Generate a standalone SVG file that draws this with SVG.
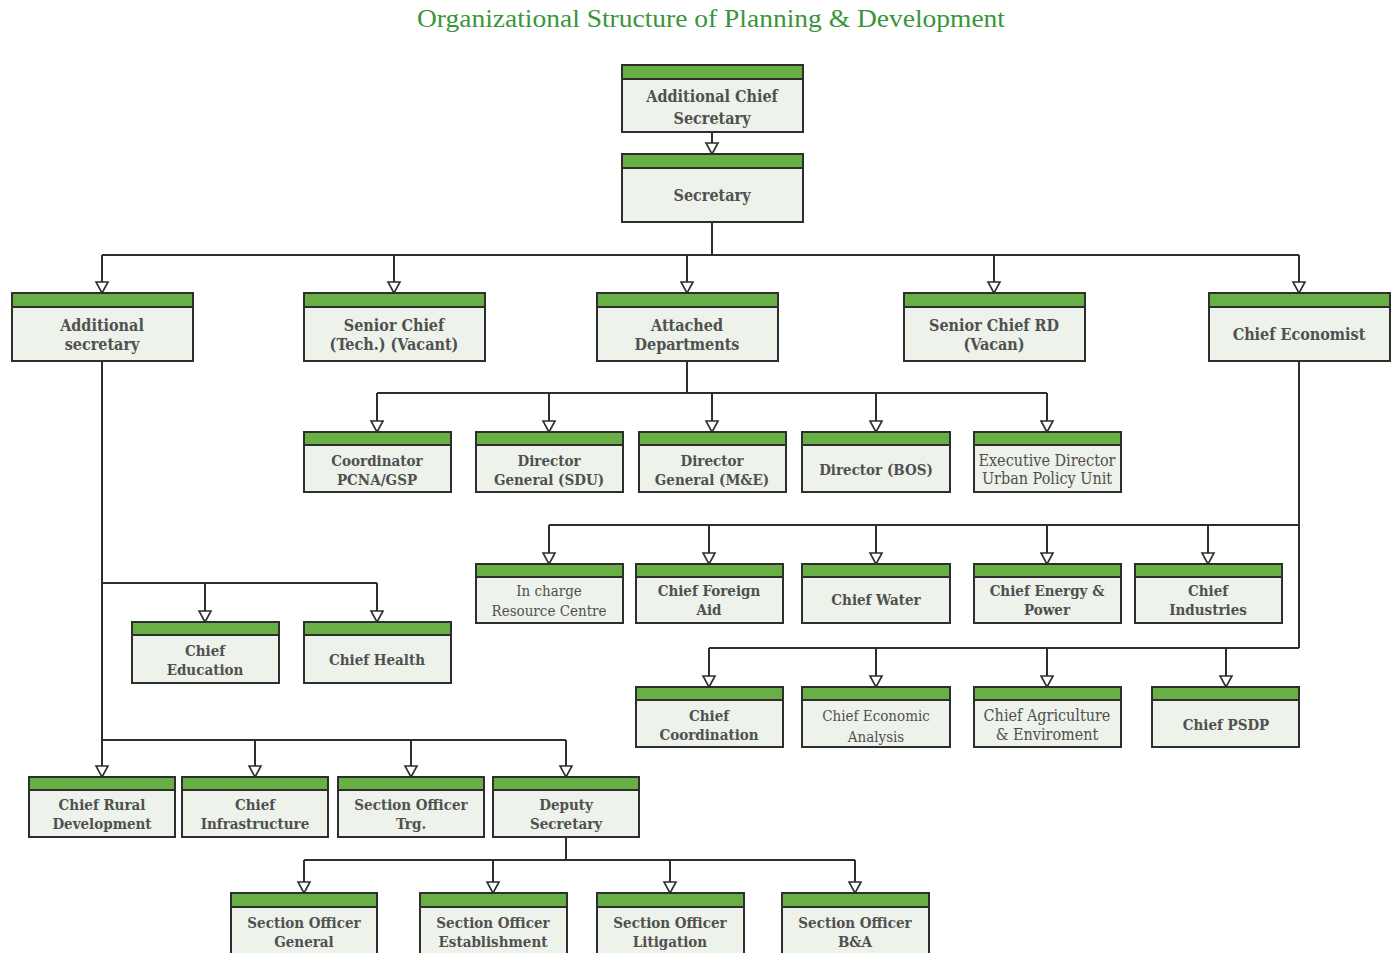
<svg xmlns="http://www.w3.org/2000/svg" width="1398" height="953" viewBox="0 0 1398 953">
  <style>
    .body { fill: #edf2ea; stroke: #2e2e2e; stroke-width: 2; }
    .hd { fill: #68b045; stroke: #2e2e2e; stroke-width: 2; }
    .t { font-family: "DejaVu Serif Condensed", "DejaVu Serif", serif; font-stretch: condensed; font-weight: bold; font-size: 16px; fill: #505050; text-anchor: middle; }
    .s { font-size: 15px; }
    .n { font-weight: normal; }
    .title { font-family: "Liberation Serif", serif; font-size: 25px; fill: #3a953a; text-anchor: middle; }
    .c { fill: none; stroke: #2e2e2e; stroke-width: 2; }
    .a { marker-end: url(#tri); }
  </style>
  <defs>
    <marker id="tri" markerUnits="userSpaceOnUse" markerWidth="14" markerHeight="16" viewBox="-1 -8 13 16" refX="11" refY="0" orient="auto">
      <path d="M0,-6 L11,0 L0,6 Z" fill="#ffffff" stroke="#2e2e2e" stroke-width="1.6"/>
    </marker>
  </defs>
  <rect width="1398" height="953" fill="#ffffff"/>

  <text class="title" x="711" y="27" textLength="588" lengthAdjust="spacingAndGlyphs">Organizational Structure of Planning &amp; Development</text>

  <!-- connectors -->
  <g id="connectors">
    <line class="c a" x1="712" y1="132" x2="712" y2="154"/>
    <path class="c" d="M712,222 V255 M102,255 H1299"/>
    <line class="c a" x1="102" y1="255" x2="102" y2="293"/>
    <line class="c a" x1="394" y1="255" x2="394" y2="293"/>
    <line class="c a" x1="687" y1="255" x2="687" y2="293"/>
    <line class="c a" x1="994" y1="255" x2="994" y2="293"/>
    <line class="c a" x1="1299" y1="255" x2="1299" y2="293"/>

    <path class="c" d="M687,361 V393 M377,393 H1047"/>
    <line class="c a" x1="377" y1="393" x2="377" y2="432"/>
    <line class="c a" x1="549" y1="393" x2="549" y2="432"/>
    <line class="c a" x1="712" y1="393" x2="712" y2="432"/>
    <line class="c a" x1="876" y1="393" x2="876" y2="432"/>
    <line class="c a" x1="1047" y1="393" x2="1047" y2="432"/>

    <path class="c" d="M1299,361 V648 M549,525 H1299 M709,648 H1299"/>
    <line class="c a" x1="549" y1="525" x2="549" y2="564"/>
    <line class="c a" x1="709" y1="525" x2="709" y2="564"/>
    <line class="c a" x1="876" y1="525" x2="876" y2="564"/>
    <line class="c a" x1="1047" y1="525" x2="1047" y2="564"/>
    <line class="c a" x1="1208" y1="525" x2="1208" y2="564"/>
    <line class="c a" x1="709" y1="648" x2="709" y2="687"/>
    <line class="c a" x1="876" y1="648" x2="876" y2="687"/>
    <line class="c a" x1="1047" y1="648" x2="1047" y2="687"/>
    <line class="c a" x1="1226" y1="648" x2="1226" y2="687"/>

    <line class="c a" x1="102" y1="361" x2="102" y2="777"/>
    <path class="c" d="M102,583 H377 M102,740 H566"/>
    <line class="c a" x1="205" y1="583" x2="205" y2="622"/>
    <line class="c a" x1="377" y1="583" x2="377" y2="622"/>
    <line class="c a" x1="255" y1="740" x2="255" y2="777"/>
    <line class="c a" x1="411" y1="740" x2="411" y2="777"/>
    <line class="c a" x1="566" y1="740" x2="566" y2="777"/>

    <path class="c" d="M566,837 V860 M304,860 H855"/>
    <line class="c a" x1="304" y1="860" x2="304" y2="893"/>
    <line class="c a" x1="493" y1="860" x2="493" y2="893"/>
    <line class="c a" x1="670" y1="860" x2="670" y2="893"/>
    <line class="c a" x1="855" y1="860" x2="855" y2="893"/>
  </g>

  <!-- top -->
  <g id="acs">
    <rect class="body" x="622" y="65" width="181" height="67"/>
    <rect class="hd" x="622" y="65" width="181" height="14"/>
    <text class="t" x="712" y="102">Additional Chief</text>
    <text class="t" x="712" y="124">Secretary</text>
  </g>
  <g id="secretary">
    <rect class="body" x="622" y="154" width="181" height="68"/>
    <rect class="hd" x="622" y="154" width="181" height="14"/>
    <text class="t" x="712" y="201">Secretary</text>
  </g>

  <!-- first level -->
  <g id="add-sec">
    <rect class="body" x="12" y="293" width="181" height="68"/>
    <rect class="hd" x="12" y="293" width="181" height="14"/>
    <text class="t" x="102" y="331">Additional</text>
    <text class="t" x="102" y="350">secretary</text>
  </g>
  <g id="senior-chief-tech">
    <rect class="body" x="304" y="293" width="181" height="68"/>
    <rect class="hd" x="304" y="293" width="181" height="14"/>
    <text class="t" x="394" y="331">Senior Chief</text>
    <text class="t" x="394" y="350">(Tech.) (Vacant)</text>
  </g>
  <g id="attached">
    <rect class="body" x="597" y="293" width="181" height="68"/>
    <rect class="hd" x="597" y="293" width="181" height="14"/>
    <text class="t" x="687" y="331">Attached</text>
    <text class="t" x="687" y="350">Departments</text>
  </g>
  <g id="senior-chief-rd">
    <rect class="body" x="904" y="293" width="181" height="68"/>
    <rect class="hd" x="904" y="293" width="181" height="14"/>
    <text class="t" x="994" y="331">Senior Chief RD</text>
    <text class="t" x="994" y="350">(Vacan)</text>
  </g>
  <g id="chief-economist">
    <rect class="body" x="1209" y="293" width="181" height="68"/>
    <rect class="hd" x="1209" y="293" width="181" height="14"/>
    <text class="t" x="1299" y="340">Chief Economist</text>
  </g>

  <!-- attached departments -->
  <g id="coordinator">
    <rect class="body" x="304" y="432" width="147" height="60"/>
    <rect class="hd" x="304" y="432" width="147" height="13"/>
    <text class="t s" x="377" y="466">Coordinator</text>
    <text class="t s" x="377" y="485">PCNA/GSP</text>
  </g>
  <g id="dg-sdu">
    <rect class="body" x="476" y="432" width="147" height="60"/>
    <rect class="hd" x="476" y="432" width="147" height="13"/>
    <text class="t s" x="549" y="466">Director</text>
    <text class="t s" x="549" y="485">General (SDU)</text>
  </g>
  <g id="dg-me">
    <rect class="body" x="639" y="432" width="147" height="60"/>
    <rect class="hd" x="639" y="432" width="147" height="13"/>
    <text class="t s" x="712" y="466">Director</text>
    <text class="t s" x="712" y="485">General (M&amp;E)</text>
  </g>
  <g id="director-bos">
    <rect class="body" x="802" y="432" width="148" height="60"/>
    <rect class="hd" x="802" y="432" width="148" height="13"/>
    <text class="t s" x="876" y="475">Director (BOS)</text>
  </g>
  <g id="exec-director">
    <rect class="body" x="974" y="432" width="147" height="60"/>
    <rect class="hd" x="974" y="432" width="147" height="13"/>
    <text class="t n" x="1047" y="466" font-size="14">Executive Director</text>
    <text class="t n" x="1047" y="484" font-size="14">Urban Policy Unit</text>
  </g>

  <!-- chief economist, first row -->
  <g id="resource-centre">
    <rect class="body" x="476" y="564" width="147" height="59"/>
    <rect class="hd" x="476" y="564" width="147" height="13"/>
    <text class="t s n" x="549" y="596">In charge</text>
    <text class="t s n" x="549" y="616">Resource Centre</text>
  </g>
  <g id="foreign-aid">
    <rect class="body" x="636" y="564" width="147" height="59"/>
    <rect class="hd" x="636" y="564" width="147" height="13"/>
    <text class="t s" x="709" y="596">Chief Foreign</text>
    <text class="t s" x="709" y="615">Aid</text>
  </g>
  <g id="water">
    <rect class="body" x="802" y="564" width="148" height="59"/>
    <rect class="hd" x="802" y="564" width="148" height="13"/>
    <text class="t s" x="876" y="605">Chief Water</text>
  </g>
  <g id="energy">
    <rect class="body" x="974" y="564" width="147" height="59"/>
    <rect class="hd" x="974" y="564" width="147" height="13"/>
    <text class="t s" x="1047" y="596">Chief Energy &amp;</text>
    <text class="t s" x="1047" y="615">Power</text>
  </g>
  <g id="industries">
    <rect class="body" x="1135" y="564" width="147" height="59"/>
    <rect class="hd" x="1135" y="564" width="147" height="13"/>
    <text class="t s" x="1208" y="596">Chief</text>
    <text class="t s" x="1208" y="615">Industries</text>
  </g>

  <!-- chief economist, second row -->
  <g id="coordination">
    <rect class="body" x="636" y="687" width="147" height="60"/>
    <rect class="hd" x="636" y="687" width="147" height="13"/>
    <text class="t s" x="709" y="721">Chief</text>
    <text class="t s" x="709" y="740">Coordination</text>
  </g>
  <g id="economic-analysis">
    <rect class="body" x="802" y="687" width="148" height="60"/>
    <rect class="hd" x="802" y="687" width="148" height="13"/>
    <text class="t s n" x="876" y="721">Chief Economic</text>
    <text class="t s n" x="876" y="742">Analysis</text>
  </g>
  <g id="agriculture">
    <rect class="body" x="974" y="687" width="147" height="60"/>
    <rect class="hd" x="974" y="687" width="147" height="13"/>
    <text class="t n" x="1047" y="721" font-size="14">Chief Agriculture</text>
    <text class="t n" x="1047" y="740" font-size="14">&amp; Enviroment</text>
  </g>
  <g id="psdp">
    <rect class="body" x="1152" y="687" width="147" height="60"/>
    <rect class="hd" x="1152" y="687" width="147" height="13"/>
    <text class="t s" x="1226" y="730">Chief PSDP</text>
  </g>

  <!-- additional secretary branch -->
  <g id="education">
    <rect class="body" x="132" y="622" width="147" height="61"/>
    <rect class="hd" x="132" y="622" width="147" height="13"/>
    <text class="t s" x="205" y="656">Chief</text>
    <text class="t s" x="205" y="675">Education</text>
  </g>
  <g id="health">
    <rect class="body" x="304" y="622" width="147" height="61"/>
    <rect class="hd" x="304" y="622" width="147" height="13"/>
    <text class="t s" x="377" y="665">Chief Health</text>
  </g>
  <g id="rural">
    <rect class="body" x="29" y="777" width="146" height="60"/>
    <rect class="hd" x="29" y="777" width="146" height="13"/>
    <text class="t s" x="102" y="810">Chief Rural</text>
    <text class="t s" x="102" y="829">Development</text>
  </g>
  <g id="infrastructure">
    <rect class="body" x="182" y="777" width="146" height="60"/>
    <rect class="hd" x="182" y="777" width="146" height="13"/>
    <text class="t s" x="255" y="810">Chief</text>
    <text class="t s" x="255" y="829">Infrastructure</text>
  </g>
  <g id="so-trg">
    <rect class="body" x="338" y="777" width="146" height="60"/>
    <rect class="hd" x="338" y="777" width="146" height="13"/>
    <text class="t s" x="411" y="810">Section Officer</text>
    <text class="t s" x="411" y="829">Trg.</text>
  </g>
  <g id="deputy">
    <rect class="body" x="493" y="777" width="146" height="60"/>
    <rect class="hd" x="493" y="777" width="146" height="13"/>
    <text class="t s" x="566" y="810">Deputy</text>
    <text class="t s" x="566" y="829">Secretary</text>
  </g>

  <!-- deputy secretary branch -->
  <g id="so-general">
    <rect class="body" x="231" y="893" width="146" height="64"/>
    <rect class="hd" x="231" y="893" width="146" height="14"/>
    <text class="t s" x="304" y="928">Section Officer</text>
    <text class="t s" x="304" y="947">General</text>
  </g>
  <g id="so-establishment">
    <rect class="body" x="420" y="893" width="147" height="64"/>
    <rect class="hd" x="420" y="893" width="147" height="14"/>
    <text class="t s" x="493" y="928">Section Officer</text>
    <text class="t s" x="493" y="947">Establishment</text>
  </g>
  <g id="so-litigation">
    <rect class="body" x="597" y="893" width="147" height="64"/>
    <rect class="hd" x="597" y="893" width="147" height="14"/>
    <text class="t s" x="670" y="928">Section Officer</text>
    <text class="t s" x="670" y="947">Litigation</text>
  </g>
  <g id="so-ba">
    <rect class="body" x="782" y="893" width="147" height="64"/>
    <rect class="hd" x="782" y="893" width="147" height="14"/>
    <text class="t s" x="855" y="928">Section Officer</text>
    <text class="t s" x="855" y="947">B&amp;A</text>
  </g>
</svg>
